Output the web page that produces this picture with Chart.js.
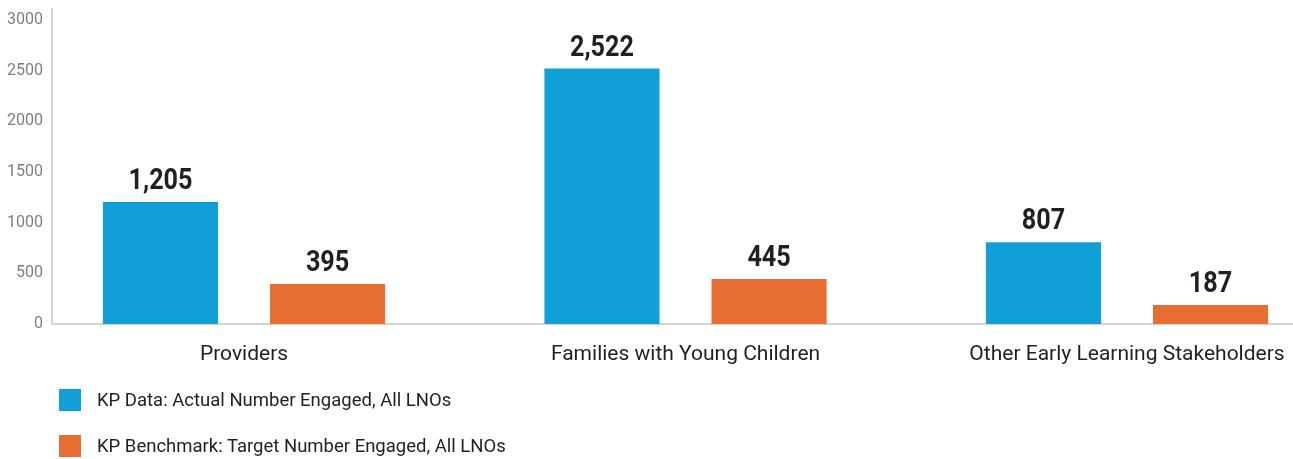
<!DOCTYPE html>
<html>
<head>
<meta charset="utf-8">
<script src="https://cdn.jsdelivr.net/npm/chart.js@4/dist/chart.umd.min.js"></script>
<style>
  html, body { margin: 0; padding: 0; background: #fff; }
  #wrap { position: relative; width: 1293px; height: 459px; }
  #legend { position: absolute; left: 59px; top: 389px; font-family: Roboto, sans-serif; font-size: 18.5px; color: #231f20; }
  .item { display: flex; align-items: center; height: 22px; margin-bottom: 24px; }
  .box { width: 22px; height: 22px; margin-right: 16px; }
</style>
</head>
<body>
<div id="wrap">
  <canvas id="myChart" width="1293" height="459"></canvas>
  <div id="legend"></div>
</div>
<script>
// chart data
const categories = ['Providers', 'Families with Young Children', 'Other Early Learning Stakeholders'];
const actualValues = [1205, 2522, 807];
const targetValues = [395, 445, 187];
const seriesLabels = ['KP Data: Actual Number Engaged, All LNOs', 'KP Benchmark: Target Number Engaged, All LNOs'];
const yTicks = [0, 500, 1000, 1500, 2000, 2500, 3000];

const BLUE = '#109fd6';
const ORANGE = '#e86e34';
const FONT = 'Roboto, sans-serif';

// bars on a numeric x so the groups can sit where the original has them
const toPoints = (vals) => vals.map((v, i) => ({ x: i, y: v }));

// value labels above each bar (squeezed a bit to look like a condensed face)
const barValues = {
  id: 'barValues',
  afterDatasetsDraw(chart) {
    const ctx = chart.ctx;
    chart.data.datasets.forEach((ds, di) => {
      chart.getDatasetMeta(di).data.forEach((bar, i) => {
        ctx.save();
        ctx.translate(bar.x, bar.y - 13);
        ctx.scale(0.84, 1);
        ctx.font = 'bold 30px ' + FONT;
        ctx.fillStyle = '#231f20';
        ctx.textAlign = 'center';
        ctx.textBaseline = 'alphabetic';
        ctx.fillText(ds.data[i].y.toLocaleString('en-US'), 0, 0);
        ctx.restore();
      });
    });
  },
};

var ctx = document.getElementById('myChart').getContext('2d');
window.myChart = new Chart(ctx, {
  type: 'bar',
  data: {
    datasets: [
      { label: seriesLabels[0], data: toPoints(actualValues), backgroundColor: BLUE },
      { label: seriesLabels[1], data: toPoints(targetValues), backgroundColor: ORANGE },
    ],
  },
  plugins: [barValues],
  options: {
    responsive: false,
    animation: false,
    layout: { padding: { top: 9, left: 0, right: 0, bottom: 0 } },
    categoryPercentage: 0.757,
    barPercentage: 0.689,
    plugins: {
      legend: { display: false },
      tooltip: { enabled: false },
    },
    scales: {
      x: {
        type: 'linear',
        offset: false,
        min: -0.435,
        max: 2.376,
        grid: { display: false, drawTicks: false },
        border: { display: true, color: '#d4d4d4', width: 2 },
        afterBuildTicks: (scale) => {
          scale.ticks = categories.map((c, i) => ({ value: i }));
        },
        afterFit: (scale) => {
          scale.height = 135;
          scale.paddingLeft = 0;
          scale.paddingRight = 0;
        },
        ticks: {
          padding: 18,
          maxRotation: 0,
          autoSkip: false,
          color: '#231f20',
          font: { family: FONT, size: 21 },
          callback: (v) => categories[v],
        },
      },
      y: {
        min: 0,
        max: 3110,
        grid: { display: false, drawTicks: false },
        border: { display: true, color: '#d4d4d4', width: 2 },
        afterBuildTicks: (scale) => {
          scale.ticks = yTicks.map((v) => ({ value: v }));
        },
        afterFit: (scale) => {
          scale.width = 52;
          scale.paddingTop = 0;
          scale.paddingBottom = 0;
        },
        ticks: {
          padding: 9,
          color: '#7f7f7f',
          font: { family: FONT, size: 16 },
          callback: (v) => String(v),
        },
      },
    },
  },
});

// simple stacked legend under the chart
var legend = document.getElementById('legend');
window.myChart.data.datasets.forEach((ds) => {
  var item = document.createElement('div');
  item.className = 'item';
  item.innerHTML = '<span class="box" style="background:' + ds.backgroundColor + '"></span><span>' + ds.label + '</span>';
  legend.appendChild(item);
});
</script>
</body>
</html>
